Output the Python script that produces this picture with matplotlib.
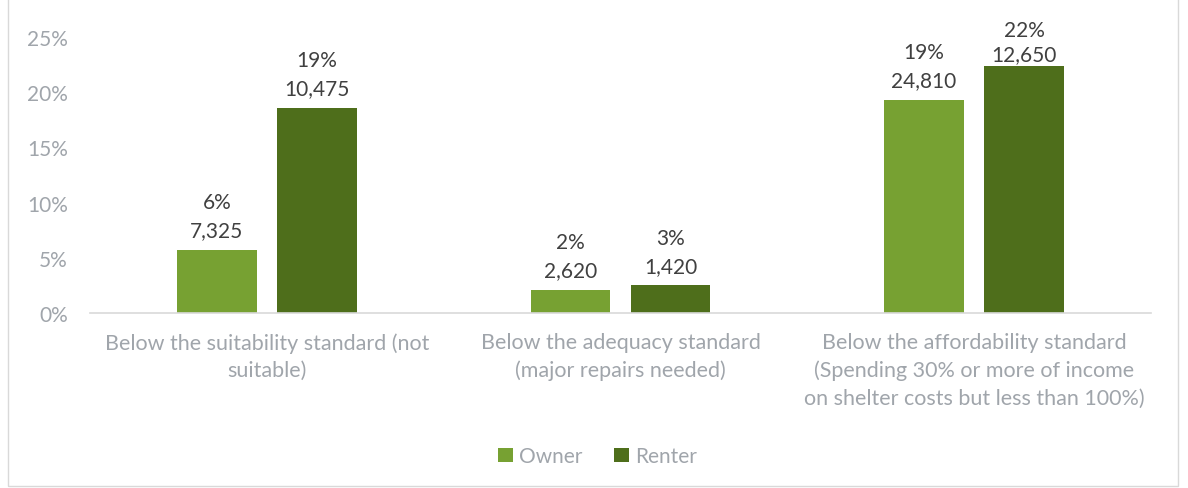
import numpy as np
import matplotlib.pyplot as plt
from matplotlib.patches import Rectangle

# categories and series
categories = [
    "Below the suitability standard (not\nsuitable)",
    "Below the adequacy standard\n(major repairs needed)",
    "Below the affordability standard\n(Spending 30% or more of income\non shelter costs but less than 100%)",
]
owner_pct = [5.7, 2.1, 19.3]
renter_pct = [18.6, 2.5, 22.4]
owner_pct_labels = ["6%", "2%", "19%"]
renter_pct_labels = ["19%", "3%", "22%"]
owner_counts = ["7,325", "2,620", "24,810"]
renter_counts = ["10,475", "1,420", "12,650"]
yticks = [0, 5, 10, 15, 20, 25]

OWNER_COLOR = "#77A132"
RENTER_COLOR = "#4E6E1B"
GRAY = "#A0A5AB"
LABEL_COLOR = "#404040"

plt.rcParams['font.family'] = ['Lato', 'DejaVu Sans']

fig = plt.figure(figsize=(11.88, 4.89), dpi=100)
ax = fig.add_axes([0.0758, 0.358, 0.893, 0.564])

x = np.arange(len(categories))
w = 0.225
off = 0.1415
b1 = ax.bar(x - off, owner_pct, w, color=OWNER_COLOR, label="Owner")
b2 = ax.bar(x + off, renter_pct, w, color=RENTER_COLOR, label="Renter")

# two-line data labels above each bar (the tallest one is squeezed a bit, like the original)
for bars, pcts, counts in [(b1, owner_pct_labels, owner_counts), (b2, renter_pct_labels, renter_counts)]:
    for rect, p, c in zip(bars, pcts, counts):
        h = rect.get_height()
        tall = h > 21
        ax.annotate(p + "\n" + c, (rect.get_x() + rect.get_width() / 2, h),
                    xytext=(0, 1 if tall else 7), textcoords="offset points", ha="center",
                    va="bottom", fontsize=15, color=LABEL_COLOR,
                    linespacing=1.3 if tall else 1.5)

ax.set_xlim(-0.5, 2.5)
ax.set_ylim(0, 25)
ax.set_yticks(yticks)
ax.set_yticklabels([f"{t}%" for t in yticks], color=GRAY, fontsize=15)
ax.set_xticks(x)
ax.set_xticklabels(categories, color=GRAY, fontsize=15.5, linespacing=1.45)
ax.tick_params(axis="both", length=0)
ax.tick_params(axis="x", pad=14)
ax.tick_params(axis="y", pad=16)
for s in ["top", "right", "left"]:
    ax.spines[s].set_visible(False)
ax.spines["bottom"].set_color("#D9D9D9")
ax.spines["bottom"].set_linewidth(1.2)

leg = fig.legend(loc="center", bbox_to_anchor=(0.503, 0.065), ncol=2, frameon=False,
                 fontsize=15, handlelength=0.7, handleheight=0.7, handletextpad=0.3,
                 columnspacing=1.5)
for t in leg.get_texts():
    t.set_color(GRAY)

# light chart border
fig.patches.append(Rectangle((0.007, 0.004), 0.985, 1.2, transform=fig.transFigure,
                             fill=False, edgecolor="#D9D9D9", linewidth=1))

fig.savefig("out.png", dpi=100)
